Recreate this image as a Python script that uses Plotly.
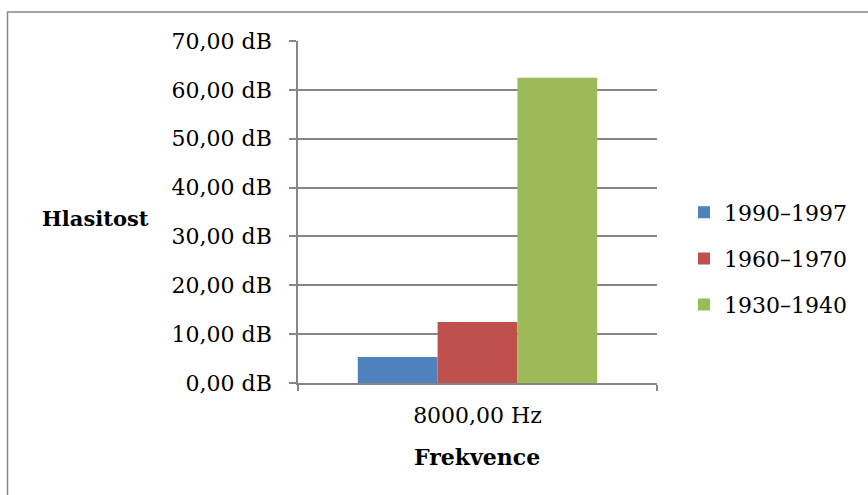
import plotly.graph_objects as go

categories = ["8000,00 Hz"]
series_names = ["1990–1997", "1960–1970", "1930–1940"]
series_values = [[5.3], [12.5], [62.5]]
colors = ["#4F81BD", "#C0504D", "#9BBB59"]
y_ticks = [0, 10, 20, 30, 40, 50, 60, 70]
y_tick_labels = ["0,00 dB", "10,00 dB", "20,00 dB", "30,00 dB", "40,00 dB", "50,00 dB", "60,00 dB", "70,00 dB"]

FONT = "DejaVu Serif"
FS = 22
fig = go.Figure()
for i, (name, vals) in enumerate(zip(series_names, series_values)):
    fig.add_trace(go.Bar(x=categories, y=vals, name=name, marker=dict(color=colors[i], line=dict(width=0)),
                         legendgroup=name))

W, H = 868, 495
L, R, T, B = 298, 657, 41, 383
GRID = "#868686"
fig.update_layout(
    width=W, height=H,
    margin=dict(l=L, r=W - R, t=T, b=H - B, pad=0),
    paper_bgcolor="white", plot_bgcolor="white",
    font=dict(family=FONT, size=FS, color="black"),
    barmode="group", bargap=0.333, bargroupgap=0,
    showlegend=True,
    legend=dict(x=(684 - L) / (R - L), y=(B - 191.5) / (B - T), xanchor="left", yanchor="top",
                traceorder="grouped", tracegroupgap=14.5, font=dict(family=FONT, size=FS),
                itemwidth=30, bgcolor="rgba(0,0,0,0)"),
    xaxis=dict(type="category", showgrid=False, showline=True, linecolor=GRID, linewidth=1.5,
               ticks="outside", tickson="boundaries", ticklen=6, tickcolor=GRID, tickwidth=1.5,
               ticklabelstandoff=12, tickfont=dict(family=FONT, size=FS), range=[-0.5, 0.5]),
    yaxis=dict(range=[0, 70], tickvals=y_ticks, ticktext=y_tick_labels, showgrid=True,
               gridcolor=GRID, gridwidth=1.5, showline=True, linecolor=GRID, linewidth=1.5,
               ticks="outside", ticklen=7, tickcolor=GRID, tickwidth=1.5, ticklabelstandoff=13,
               tickfont=dict(family=FONT, size=FS), zeroline=False),
)
fig.add_annotation(text="<b>Hlasitost</b>", xref="paper", yref="paper",
                   x=(95.5 - L) / (R - L), y=(B - 218) / (B - T), showarrow=False,
                   font=dict(family=FONT, size=21), xanchor="center", yanchor="middle")
fig.add_annotation(text="<b>Frekvence</b>", xref="paper", yref="paper",
                   x=(477 - L) / (R - L), y=(B - 457) / (B - T), showarrow=False,
                   font=dict(family=FONT, size=22), xanchor="center", yanchor="middle")
fig.add_shape(type="rect", xref="paper", yref="paper",
              x0=(7.5 - L) / (R - L), x1=(880 - L) / (R - L),
              y0=(B - 505) / (B - T), y1=(B - 12) / (B - T),
              line=dict(color=GRID, width=1.5), fillcolor="rgba(0,0,0,0)", layer="below")
fig.write_html("out.html", config={"displayModeBar": False},
               post_script="document.body.style.margin='0';")
